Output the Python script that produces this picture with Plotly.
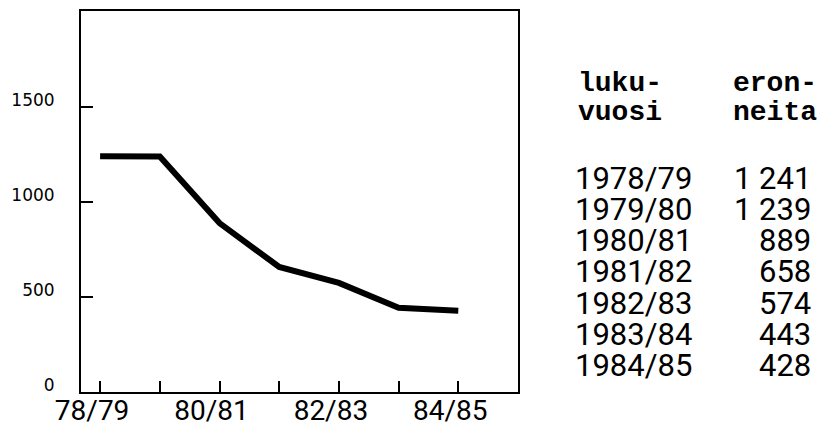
import plotly.graph_objects as go

# ---- data ----
years = ["1978/79", "1979/80", "1980/81", "1981/82", "1982/83", "1983/84", "1984/85"]
values = [1241, 1239, 889, 658, 574, 443, 428]
x_ticklabels = ["78/79", "", "80/81", "", "82/83", "", "84/85"]
y_tickvals = [0, 500, 1000, 1500]
header_col1 = ["luku-", "vuosi"]
header_col2 = ["eron-", "neita"]

W, H = 821, 425
# plot area in page pixels
L, R, T, B = 81, 518, 11, 392


def px(X):
    return (X - L) / (R - L)


def py(Y):
    return (B - Y) / (B - T)


idx = list(range(len(years)))

fig = go.Figure()
fig.add_trace(go.Scatter(
    x=idx, y=values, mode="lines",
    line=dict(color="black", width=6),
    hoverinfo="skip", showlegend=False,
))

fig.update_layout(
    width=W, height=H,
    margin=dict(l=L, r=W - R, t=T, b=H - B, pad=0),
    paper_bgcolor="white", plot_bgcolor="white",
    showlegend=False,
    template="none",
)

fig.update_xaxes(
    range=[-0.32, 7.0], tickmode="array", tickvals=idx, ticktext=x_ticklabels,
    ticks="inside", ticklen=11, tickwidth=2, tickcolor="black",
    showline=True, linecolor="black", linewidth=2, mirror=True,
    showgrid=False, zeroline=False, automargin=False,
    tickfont=dict(family="Roboto", size=28, color="black"),
    ticklabelshift=-8, ticklabelstandoff=-8,
)
fig.update_yaxes(
    range=[0, 2005], tickmode="array", tickvals=y_tickvals,
    ticktext=[str(v) for v in y_tickvals],
    ticks="inside", ticklen=12, tickwidth=2, tickcolor="black",
    showline=True, linecolor="black", linewidth=2, mirror=True,
    showgrid=False, zeroline=False, automargin=False,
    tickfont=dict(family="DejaVu Sans", size=17, color="black"),
    ticklabelstandoff=21, ticklabelshift=-7,
)

ann = []
hdr_font = dict(family="Liberation Mono", size=28, color="black", weight="bold")
for i, (a, b) in enumerate(zip(header_col1, header_col2)):
    yy = 83 + 30 * i
    ann.append(dict(x=px(576), y=py(yy), xref="paper", yref="paper", text=a,
                    showarrow=False, xanchor="left", yanchor="middle", font=hdr_font))
    ann.append(dict(x=px(731), y=py(yy), xref="paper", yref="paper", text=b,
                    showarrow=False, xanchor="left", yanchor="middle", font=hdr_font))

row_font = dict(family="Roboto", size=31, color="black")
for i, (yr, v) in enumerate(zip(years, values)):
    yy = 178 + 31.3 * i
    ann.append(dict(x=px(573), y=py(yy), xref="paper", yref="paper", text=yr,
                    showarrow=False, xanchor="left", yanchor="middle", font=row_font))
    ann.append(dict(x=px(813), y=py(yy), xref="paper", yref="paper",
                    text=f"{v:,}".replace(",", " "),
                    showarrow=False, xanchor="right", yanchor="middle", font=row_font))

fig.update_layout(annotations=ann)
fig.write_html(
    "out.html",
    config={"displayModeBar": False},
    post_script="document.body.style.margin='0';document.body.style.overflow='hidden';",
)
